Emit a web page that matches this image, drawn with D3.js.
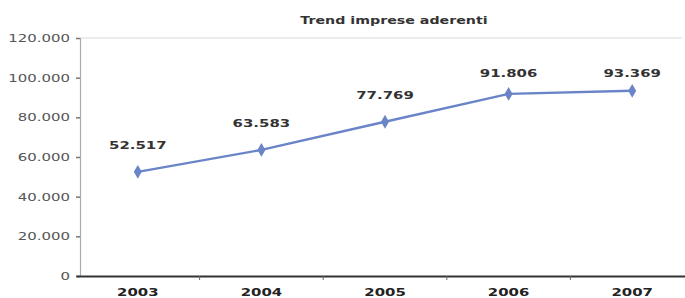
<!DOCTYPE html>
<html>
<head>
<meta charset="utf-8">
<script src="https://cdn.jsdelivr.net/npm/d3@7"></script>
<style>
body { margin: 0; background: #fff; }
text { font-family: "DejaVu Sans", Verdana, sans-serif; }
</style>
</head>
<body>
<script>
// chart data
var years = ["2003", "2004", "2005", "2006", "2007"];
var imprese = [52517, 63583, 77769, 91806, 93369];
var yTicks = [0, 20000, 40000, 60000, 80000, 100000, 120000];

var W = 685, H = 298;
var stretch = 1.42; //reference text looks stretched sideways

var svg = d3.select("body").append("svg")
	.attr("width", W)
	.attr("height", H);

var x = d3.scaleBand().domain(years).range([76, 694]);
var y = d3.scaleLinear().domain([0, 120000]).range([276, 38]);

// italian thousand separator
var fmt = function(v){ return v === 0 ? "0" : d3.format(",")(v).replace(/,/g, "."); };

// widen a text selection
function widen(sel){
	sel.each(function(){
		var w = this.getComputedTextLength();
		d3.select(this).attr("textLength", w * stretch).attr("lengthAdjust", "spacingAndGlyphs");
	});
}

// top gridline
svg.append("line")
	.attr("x1", 80).attr("x2", 682)
	.attr("y1", y(120000)).attr("y2", y(120000))
	.attr("stroke", "#e6e6e6").attr("stroke-width", 1.5);

// y axis
var yAxis = svg.append("g")
	.attr("transform", "translate(80,0)")
	.call(d3.axisLeft(y).tickValues(yTicks).tickFormat(fmt).tickSize(4).tickPadding(6));
yAxis.select(".domain").attr("stroke", "#aaa").attr("stroke-width", 1.2);
yAxis.selectAll(".tick line").attr("stroke", "#777").attr("stroke-width", 1.5);
yAxis.selectAll("text").attr("fill", "#555").style("font-size", "10.5px").call(widen);

// x axis
var xAxis = svg.append("g")
	.attr("transform", "translate(0,276)")
	.call(d3.axisBottom(x).tickSize(0).tickPadding(13));
xAxis.select(".domain").attr("stroke", "#333").attr("stroke-width", 1.8);
xAxis.selectAll("text").attr("fill", "#222").style("font-size", "10.5px").style("font-weight", "bold").call(widen);
// ticks between categories
xAxis.selectAll(".sep")
	.data(years.slice(1))
	.enter().append("line")
	.attr("class", "sep")
	.attr("x1", function(d){ return x(d); })
	.attr("x2", function(d){ return x(d); })
	.attr("y1", 0).attr("y2", 4)
	.attr("stroke", "#666");

var cx = function(i){ return x(years[i]) + x.bandwidth() / 2; };

// line
svg.append("path")
	.datum(imprese)
	.attr("fill", "none")
	.attr("stroke", "#6a84c8")
	.attr("stroke-width", 2.4)
	.attr("d", d3.line().x(function(d, i){ return cx(i); }).y(function(d){ return y(d); }));

// markers
svg.selectAll(".pt")
	.data(imprese)
	.enter().append("path")
	.attr("class", "pt")
	.attr("d", d3.symbol().type(d3.symbolDiamond).size(55))
	.attr("transform", function(d, i){ return "translate(" + cx(i) + "," + y(d) + ")"; })
	.attr("fill", "#6a84c8");

// value labels (kept below the top of the plot)
svg.selectAll(".lbl")
	.data(imprese)
	.enter().append("text")
	.attr("class", "lbl")
	.attr("x", function(d, i){ return cx(i); })
	.attr("y", function(d){ return Math.max(y(d) - 23, 77); })
	.attr("text-anchor", "middle")
	.attr("fill", "#333")
	.style("font-size", "10.5px")
	.style("font-weight", "bold")
	.text(fmt)
	.call(widen);

// title
svg.append("text")
	.attr("x", 394).attr("y", 24)
	.attr("text-anchor", "middle")
	.attr("fill", "#333")
	.style("font-size", "10px")
	.style("font-weight", "bold")
	.text("Trend imprese aderenti")
	.call(widen);
</script>
</body>
</html>
